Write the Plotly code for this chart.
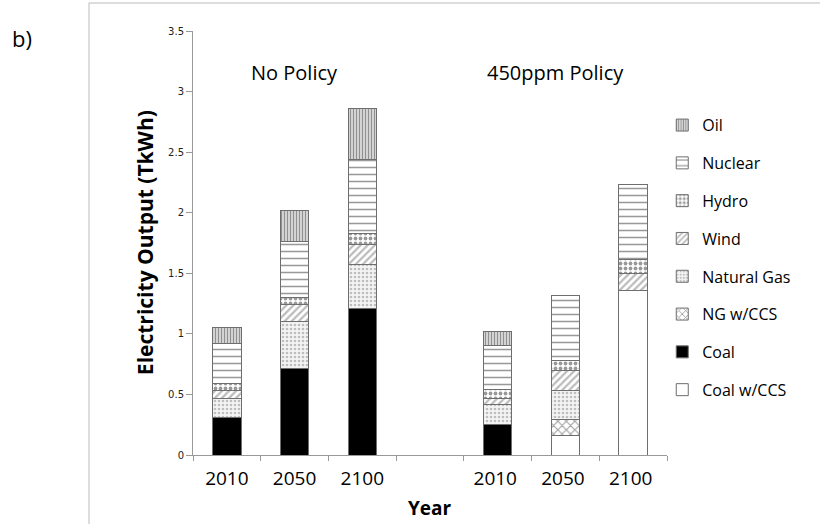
import plotly.graph_objects as go

# categories (blank slot separates the two scenarios)
years = ["2010", "2050", "2100", " ", "2010 ", "2050 ", "2100 "]

# electricity output by source, TkWh (stack order bottom -> top)
coal_ccs = [0, 0, 0, 0, 0, 0.16, 1.36]
coal = [0.31, 0.71, 1.21, 0, 0.25, 0, 0]
ng_ccs = [0, 0, 0, 0, 0, 0.135, 0]
natural_gas = [0.16, 0.39, 0.36, 0, 0.17, 0.235, 0]
wind = [0.06, 0.14, 0.17, 0, 0.05, 0.17, 0.14]
hydro = [0.06, 0.06, 0.09, 0, 0.07, 0.08, 0.11]
nuclear = [0.33, 0.46, 0.61, 0, 0.36, 0.54, 0.62]
oil = [0.13, 0.26, 0.42, 0, 0.12, 0, 0]

EDGE = "#6e6e6e"
FONT = "Open Sans, Liberation Sans, sans-serif"

series = [
    ("Coal w/CCS", coal_ccs, dict(bgcolor="white", fgcolor="white", shape="")),
    ("Coal", coal, dict(bgcolor="black", fgcolor="black", shape="")),
    ("NG w/CCS", ng_ccs, dict(bgcolor="white", fgcolor="#444", shape="x", size=6, solidity=0.35)),
    ("Natural Gas", natural_gas, dict(bgcolor="#f4f4f4", fgcolor="#888", shape=".", size=4, solidity=0.35)),
    ("Wind", wind, dict(bgcolor="white", fgcolor="#777", shape="/", size=5, solidity=0.45)),
    ("Hydro", hydro, dict(bgcolor="white", fgcolor="#333", shape=".", size=5, solidity=0.45)),
    ("Nuclear", nuclear, dict(bgcolor="white", fgcolor="#333", shape="-", size=7, solidity=0.22)),
    ("Oil", oil, dict(bgcolor="white", fgcolor="#222", shape="|", size=3, solidity=0.6)),
]

fig = go.Figure()
for i, (name, vals, pat) in enumerate(series):
    bg = pat.pop("bgcolor")
    fig.add_trace(go.Bar(
        x=years, y=vals, name=name, legendgroup=name, legendrank=len(series) - i,
        marker=dict(color=bg, pattern=pat, line=dict(color=EDGE, width=1)),
    ))

fig.update_layout(
    barmode="stack", bargap=0.58,
    width=820, height=524,
    margin=dict(l=193, r=153, t=31, b=69),
    paper_bgcolor="white", plot_bgcolor="white",
    font=dict(family=FONT, color="black"),
    showlegend=True,
    legend=dict(
        traceorder="grouped", tracegroupgap=14,
        x=0.99, y=0.818, xanchor="left", yanchor="top",
        font=dict(size=16, family=FONT), itemwidth=30,
        bgcolor="rgba(0,0,0,0)",
    ),
)
fig.update_xaxes(
    type="category", tickson="boundaries", ticks="outside", ticklen=5,
    tickcolor="#999", showline=True, linecolor="#999", linewidth=1,
    showgrid=False, tickfont=dict(size=19, family=FONT), ticklabelstandoff=6,
)
fig.update_yaxes(
    range=[0, 3.5], dtick=0.5, ticks="outside", ticklen=6, tickcolor="#999",
    showline=True, linecolor="#999", linewidth=1, showgrid=False, zeroline=False,
    tickfont=dict(size=10, family="DejaVu Sans", color="#222"),
    tickformat="~g",
)

fig.add_annotation(text="<b>Year</b>", x=0.5, y=-0.125, xref="paper", yref="paper",
                   xanchor="center", yanchor="middle", showarrow=False,
                   font=dict(size=19, family=FONT))
fig.add_annotation(text="<b>Electricity Output (TkWh)</b>", x=-0.101, y=0.5,
                   xref="paper", yref="paper", textangle=-90, showarrow=False,
                   xanchor="center", yanchor="middle", font=dict(size=21, family=FONT))
fig.add_annotation(text="No Policy", x=1, y=3.16, xref="x", yref="y", showarrow=False,
                   font=dict(size=20, family=FONT))
fig.add_annotation(text="450ppm Policy", x=4.85, y=3.16, xref="x", yref="y", showarrow=False,
                   font=dict(size=20, family=FONT))
fig.add_annotation(text="b)", x=-0.361, y=0.983, xref="paper", yref="paper", showarrow=False,
                   xanchor="center", yanchor="middle", font=dict(size=22, family=FONT))

# chart border
fig.add_shape(type="rect", xref="paper", yref="paper",
              x0=-0.2194, x1=1.4, y0=-0.2, y1=1.066,
              line=dict(color="#bbbbbb", width=1))

# page has a default 8px body margin; drop it so the figure sits at the corner
fig.write_html("out.html", config={"displayModeBar": False},
               post_script="document.body.style.margin='0';")
